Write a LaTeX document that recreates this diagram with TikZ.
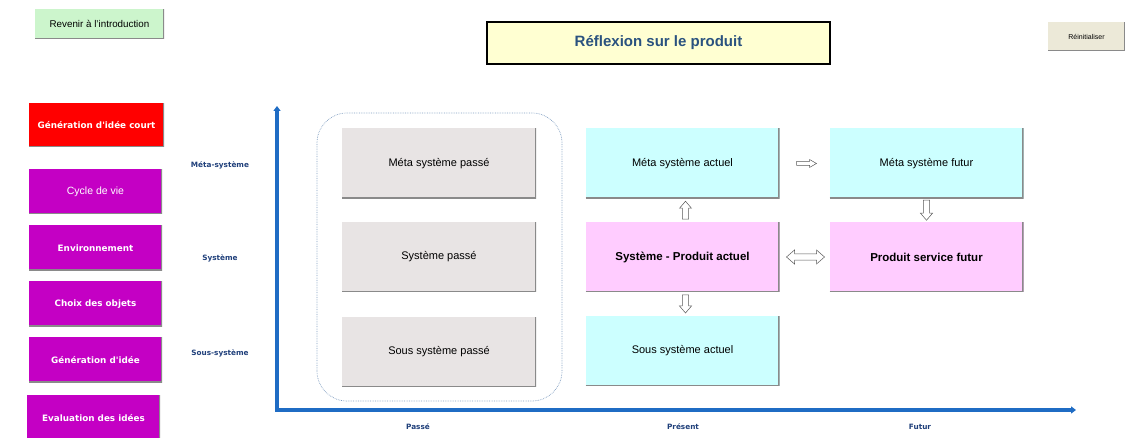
\documentclass[tikz,border=0pt]{standalone}
\usepackage{fontspec}
\setmainfont{Liberation Sans}
\newfontfamily\dvs{DejaVu Sans}
\usetikzlibrary{calc,arrows.meta}
\definecolor{btngreen}{HTML}{CCF5CC}
\definecolor{btnbeige}{HTML}{ECE9D8}
\definecolor{titleyel}{HTML}{FFFFD2}
\definecolor{titleblue}{HTML}{2A527F}
\definecolor{redbox}{HTML}{FF0000}
\definecolor{purplebox}{HTML}{C400C4}
\definecolor{graybox}{HTML}{E8E4E4}
\definecolor{cyanbox}{HTML}{CCFFFF}
\definecolor{pinkbox}{HTML}{FFCCFF}
\definecolor{axisblue}{HTML}{1F6CC4}
\definecolor{labblue}{HTML}{1F3F7A}
\definecolor{dotblue}{HTML}{7F9CC0}
\definecolor{shadowgray}{HTML}{8A8A8A}
\begin{document}
\begin{tikzpicture}[x=1pt,y=1pt,
  shade line/.style={path picture={\draw[shadowgray,line width=2.4pt]
     (path picture bounding box.south west) -- (path picture bounding box.south east)
     -- (path picture bounding box.north east);}},
  sidebox/.style={shade line, inner sep=0pt, minimum width=133pt, minimum height=45pt,
     text=white, font=\dvs\bfseries\fontsize{8.8}{10}\selectfont},
  cellbox/.style={shade line, inner sep=0pt, minimum width=194pt, minimum height=70pt,
     font=\fontsize{11}{13}\selectfont},
  axlab/.style={text=labblue, font=\dvs\bfseries\fontsize{7.3}{8}\selectfont},
  arrline/.style={draw=black!65, fill=white, line width=0.5pt},
  pics/blockarrow/.style n args={4}{code={
     \path[arrline] (-#1/2,-#3) -- (#1/2-#4,-#3) -- (#1/2-#4,-#2) -- (#1/2,0)
       -- (#1/2-#4,#2) -- (#1/2-#4,#3) -- (-#1/2,#3) -- cycle;}},
  pics/dblarrow/.style n args={4}{code={
     \path[arrline] (-#1/2+#4,-#3) -- (#1/2-#4,-#3) -- (#1/2-#4,-#2) -- (#1/2,0)
       -- (#1/2-#4,#2) -- (#1/2-#4,#3) -- (-#1/2+#4,#3) -- (-#1/2+#4,#2) -- (-#1/2,0)
       -- (-#1/2+#4,-#2) -- cycle;}}
]
\useasboundingbox (0,0) rectangle (1125,438);

% top buttons and title
\node[shade line, fill=btngreen, minimum width=129pt, minimum height=30pt, inner sep=0pt,
      font=\fontsize{9.8}{11}\selectfont] (rev) at (99.5,414) {Revenir à l'introduction};
\node[draw=black, line width=1.6pt, fill=titleyel, minimum width=343pt, minimum height=42pt,
      inner sep=0pt, text=titleblue, font=\bfseries\fontsize{15}{18}\selectfont] (title) at (658.5,395) {Réflexion sur le produit};
\node[shade line, fill=btnbeige, minimum width=77pt, minimum height=29pt, inner sep=0pt,
      font=\fontsize{7}{8}\selectfont] (reinit) at (1086.5,401.5) {Réinitialiser};

% side menu
\node[sidebox, fill=redbox, minimum width=135pt, minimum height=44pt] (gic) at (96.5,313) {Génération d'idée court};
\node[sidebox, fill=purplebox, font=\fontsize{10.5}{12}\selectfont] (cyc) at (95.5,246.5) {Cycle de vie};
\node[sidebox, fill=purplebox] (env) at (95.5,190) {Environnement};
\node[sidebox, fill=purplebox] (cho) at (95.5,134) {Choix des objets};
\node[sidebox, fill=purplebox] (gen) at (95.5,78) {Génération d'idée};
\node[sidebox, fill=purplebox] (eva) at (93.5,20) {Evaluation des idées};

% axes
\coordinate (origin) at (277,28);
\coordinate (ytop) at (277,332);
\coordinate (xend) at (1076,28);
\draw[axisblue, line width=3.4pt, -{Triangle[length=5pt,width=7pt]}] ($(origin)+(-2,0)$) -- (xend);
\draw[axisblue, line width=3.4pt, -{Triangle[length=5pt,width=7pt]}] ($(origin)+(0,-1.7)$) -- (ytop);

% axis labels
\node[axlab] (lmeta) at (220,273) {Méta-système};
\node[axlab] (lsys) at (220,180) {Système};
\node[axlab] (lsous) at (220,85) {Sous-système};
\node[axlab] (lpas) at (418,11) {Passé};
\node[axlab] (lpre) at (683,11) {Présent};
\node[axlab] (lfut) at (920,11) {Futur};

% past group
\draw[dotblue, densely dotted, line width=0.7pt, rounded corners=30pt] (317,37) rectangle (562,325);
\node[cellbox, fill=graybox] (mp) at (439,274.5) {Méta système passé};
\node[cellbox, fill=graybox] (sp) at (439,181) {Système passé};
\node[cellbox, fill=graybox] (up) at (439,86) {Sous système passé};

% present
\node[cellbox, fill=cyanbox] (ma) at (682.5,274.5) {Méta système actuel};
\node[cellbox, fill=pinkbox, font=\bfseries\fontsize{11.5}{13}\selectfont] (sa) at (682.5,181) {Système - Produit actuel};
\node[cellbox, fill=cyanbox] (ua) at (682.5,87) {Sous système actuel};

% future
\node[cellbox, fill=cyanbox] (mf) at (926.5,274.5) {Méta système futur};
\node[cellbox, fill=pinkbox, font=\bfseries\fontsize{11.5}{13}\selectfont] (pf) at (926.5,181) {Produit service futur};

% block arrows
\pic at ($(ma.east)!0.5!(mf.west)+(2,0)$) {blockarrow={20}{4}{2}{7}};
\pic[rotate=90] at ($(ma.south)!0.5!(sa.north)+(3,0)$) {blockarrow={18}{6}{3.2}{7}};
\pic[rotate=-90] at ($(sa.south)!0.5!(ua.north)+(3,0)$) {blockarrow={18}{6}{3.2}{7}};
\pic[rotate=-90] at ($(mf.south)!0.5!(pf.north)$) {blockarrow={20}{6}{3.2}{7}};
\pic at ($(sa.east)!0.5!(pf.west)+(1,0)$) {dblarrow={38}{7}{3.2}{8}};
\end{tikzpicture}
\end{document}
